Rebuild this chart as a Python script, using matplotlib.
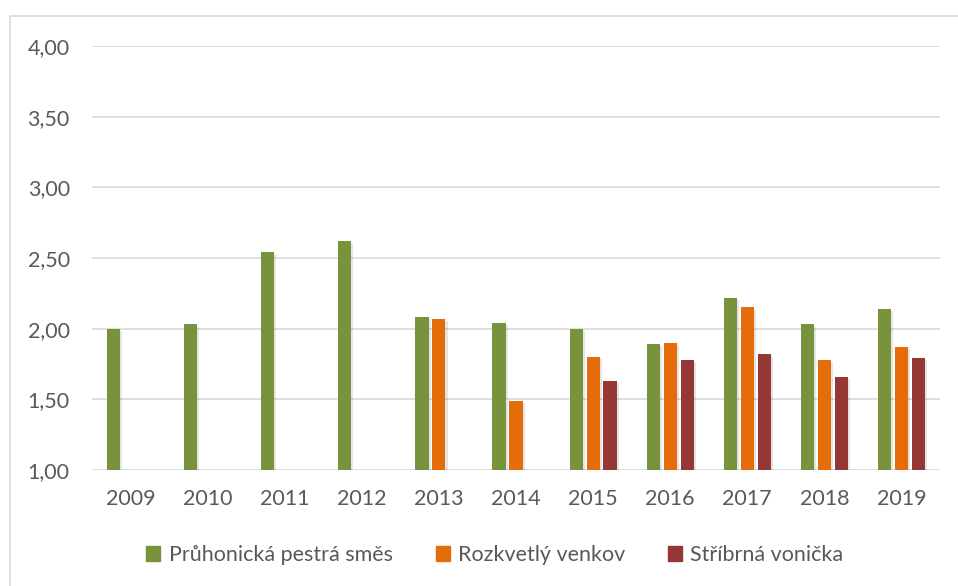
import matplotlib.pyplot as plt
import matplotlib.patheffects as pe
from matplotlib.patches import Patch, Rectangle
import numpy as np

plt.rcParams['font.family'] = ['Lato', 'DejaVu Sans']

years = ["2009", "2010", "2011", "2012", "2013", "2014", "2015", "2016", "2017", "2018", "2019"]
pruhonicka = [2.00, 2.03, 2.54, 2.62, 2.08, 2.04, 2.00, 1.89, 2.22, 2.03, 2.14]
rozkvetly = [np.nan, np.nan, np.nan, np.nan, 2.07, 1.49, 1.80, 1.90, 2.15, 1.78, 1.87]
stribrna = [np.nan, np.nan, np.nan, np.nan, np.nan, np.nan, 1.63, 1.78, 1.82, 1.66, 1.79]

names = ["Průhonická pestrá směs", "Rozkvetlý venkov", "Stříbrná vonička"]
colors = ["#77933C", "#E46C0A", "#953735"]


def main():
    fig = plt.figure(figsize=(9.58, 5.86), dpi=100)
    ax = fig.add_axes([92 / 958, 1 - 470 / 586, (940 - 92) / 958, (470 - 46) / 586])

    x = np.arange(len(years))
    width = 0.17
    step = 0.22
    # light drop shadow like the office chart
    shadow = [pe.SimplePatchShadow(offset=(1.5, -1.5), shadow_rgbFace="black", alpha=0.10),
              pe.Normal()]
    for i, (vals, c) in enumerate(zip([pruhonicka, rozkvetly, stribrna], colors)):
        v = np.array(vals)
        ok = ~np.isnan(v)
        bars = ax.bar(x[ok] + (i - 1) * step, v[ok] - 1.0, bottom=1.0, width=width,
                      color=c, zorder=3)
        for b in bars:
            b.set_path_effects(shadow)

    ax.set_xlim(-0.5, len(years) - 0.5)
    ax.set_ylim(1.0, 4.0)
    ax.set_yticks(np.arange(1.0, 4.01, 0.5))
    ax.set_yticklabels([("%.2f" % t).replace(".", ",") for t in np.arange(1.0, 4.01, 0.5)])
    ax.set_xticks(x)
    ax.set_xticklabels(years)
    ax.tick_params(axis="both", length=0, labelsize=15.5, labelcolor="#595959")
    ax.tick_params(axis="x", pad=14)
    ax.tick_params(axis="y", pad=16)
    ax.yaxis.grid(True, color="#D9D9D9", linewidth=1.2, zorder=0)
    ax.set_axisbelow(True)
    for s in ax.spines.values():
        s.set_visible(False)

    # outer chart frame (cut off at right and bottom)
    fig.patches.append(Rectangle((10 / 958, -0.1), 1.2, 0.1 + 1 - 16 / 586,
                                 transform=fig.transFigure, fill=False,
                                 edgecolor="#D9D9D9", linewidth=1.2))

    handles = [Patch(color=c, label=n) for c, n in zip(colors, names)]
    fig.legend(handles=handles, loc="center", bbox_to_anchor=(495 / 958, 1 - 555 / 586),
               ncol=3, frameon=False, fontsize=15.5, labelcolor="#595959",
               handlelength=0.65, handleheight=0.65, handletextpad=0.38,
               columnspacing=2.0)

    fig.savefig("out.png", dpi=100)


if __name__ == "__main__":
    main()
